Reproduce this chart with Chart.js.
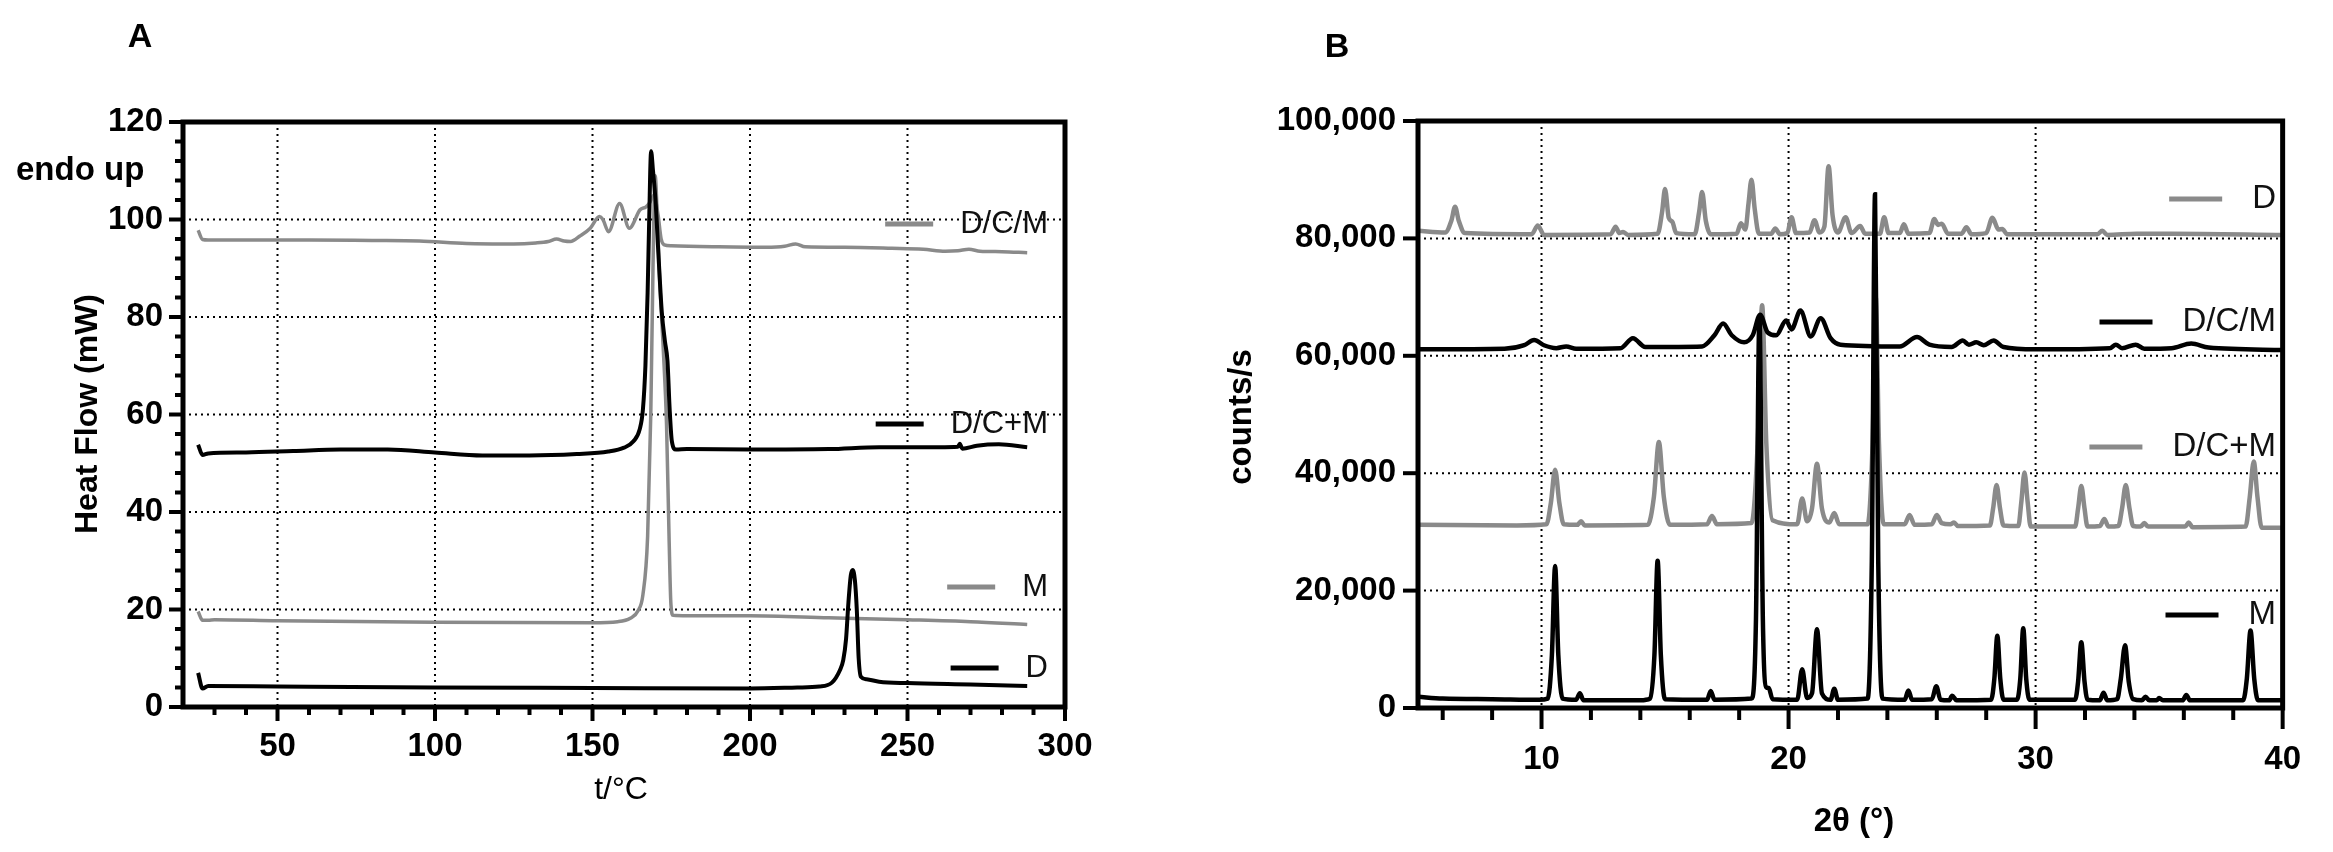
<!DOCTYPE html>
<html>
<head>
<meta charset="utf-8">
<script src="https://cdn.jsdelivr.net/npm/chart.js@4.4.1/dist/chart.umd.min.js"></script>
<style>
  html, body { margin: 0; padding: 0; background: #fff; }
  #wrap { position: relative; width: 2333px; height: 852px; }
  canvas { position: absolute; top: 0; }
</style>
</head>
<body>
<div id="wrap">
  <canvas id="dsc" width="1150" height="852" style="left:0"></canvas>
  <canvas id="xrd" width="1183" height="852" style="left:1150px"></canvas>
</div>
<script>
// ---- A: DSC curves (t in °C, heat flow in mW) ----
const dcmT  = [24.8, 26.2, 28, 40, 60, 80, 95, 110, 125, 132, 136, 138.6, 141, 143, 146, 149.3, 152.2, 153.3, 155.1, 158.6, 161.7, 165.1, 167, 168.2, 169.5, 170.8, 171.8, 172.8, 175, 190, 205, 211, 214.5, 217.5, 230, 245, 255, 262, 266, 269.5, 273, 280, 288];
const dcmHF = [97.8, 95.9, 95.8, 95.8, 95.8, 95.7, 95.6, 95.1, 95.0, 95.2, 95.5, 96.0, 95.6, 95.5, 96.6, 98.2, 100.6, 100.0, 97.5, 103.3, 98.2, 102.0, 102.6, 103.5, 105.0, 101.0, 96.0, 94.8, 94.6, 94.4, 94.3, 94.5, 95.0, 94.4, 94.3, 94.1, 93.9, 93.5, 93.6, 93.9, 93.5, 93.4, 93.2];

const dcpmT  = [24.8, 26.2, 28, 40, 55, 70, 85, 100, 115, 130, 145, 155, 160, 163, 165, 166, 166.8, 167.5, 168, 168.6, 169.2, 170, 171, 172, 173, 173.8, 174.5, 175.2, 176.5, 180, 200, 225, 241, 260, 266, 266.6, 267.4, 272, 279, 288];
const dcpmHF = [53.8, 51.7, 52.0, 52.2, 52.5, 52.8, 52.8, 52.2, 51.6, 51.6, 51.9, 52.4, 53.2, 54.5, 57.0, 61.0, 70.0, 85.0, 100.0, 114.0, 110.0, 104.0, 92.0, 81.0, 75.0, 71.0, 61.0, 54.5, 52.8, 52.9, 52.8, 52.9, 53.3, 53.3, 53.4, 54.0, 53.0, 53.6, 53.9, 53.3];

const mT  = [24.8, 26.2, 28, 30, 50, 100, 150, 158, 162, 164.5, 166, 167.5, 168.5, 169.2, 169.9, 170.6, 171.3, 172.5, 173.5, 174.3, 174.9, 175.6, 180, 200, 225, 250, 270, 288];
const mHF = [19.6, 17.8, 17.8, 17.9, 17.7, 17.4, 17.3, 17.5, 18.2, 19.8, 23.0, 35.0, 60.0, 90.0, 109.0, 100.0, 88.0, 73.0, 58.0, 35.0, 21.0, 18.8, 18.7, 18.7, 18.3, 17.9, 17.5, 16.9];

const dT  = [24.8, 26.2, 28, 50, 100, 150, 200, 215, 222, 226, 228.5, 229.6, 230.5, 231.2, 232, 232.6, 233.3, 233.9, 234.5, 235.2, 237, 241, 250, 270, 288];
const dHF = [7.0, 3.8, 4.3, 4.2, 4.0, 3.9, 3.8, 4.0, 4.2, 5.0, 7.5, 9.6, 14.0, 21.0, 27.0, 28.1, 26.0, 20.0, 10.0, 6.2, 5.7, 5.2, 4.9, 4.6, 4.3];

// ---- B: XRD patterns (2θ in degrees, counts/s) ----
const xM = [5, 6, 8, 9.9, 10.25, 10.42, 10.55, 10.68, 10.85, 11.4, 11.55, 11.7, 14.0, 14.4, 14.57, 14.7, 14.83, 15.0, 16.7, 16.85, 17.0, 18.5, 18.68, 18.82, 18.96, 19.1, 19.2, 19.35, 20.35, 20.55, 20.75, 20.95, 21.15, 21.35, 21.7, 21.85, 22.0, 23.2, 23.37, 23.5, 23.63, 23.8, 24.7, 24.85, 25.0, 25.8, 25.98, 26.15, 26.5, 26.62, 26.8, 28.2, 28.33, 28.45, 28.57, 28.7, 29.25, 29.38, 29.5, 29.62, 29.75, 31.6, 31.72, 31.85, 31.98, 32.1, 32.6, 32.75, 32.9, 33.3, 33.45, 33.62, 33.77, 33.95, 34.3, 34.45, 34.6, 34.9, 35.0, 35.15, 35.95, 36.1, 36.25, 38.4, 38.55, 38.7, 38.85, 39.0, 40];
const yM = [1900, 1600, 1500, 1400, 1600, 9000, 24200, 9000, 1600, 1400, 2500, 1300, 1300, 1600, 9000, 25100, 9000, 1500, 1400, 2900, 1400, 1600, 15000, 66500, 15000, 3500, 3400, 1500, 1400, 6600, 1700, 2500, 13400, 2500, 1400, 3300, 1400, 1600, 25000, 87500, 25000, 1600, 1400, 3000, 1400, 1500, 3700, 1400, 1300, 2100, 1300, 1400, 5000, 12300, 5000, 1400, 1400, 5000, 13600, 5000, 1400, 1400, 4500, 11200, 4500, 1400, 1300, 2600, 1300, 1500, 5000, 10700, 4500, 1500, 1300, 1900, 1300, 1300, 1700, 1300, 1300, 2200, 1300, 1300, 5000, 13200, 5000, 1300, 1300];

const xDCM = [5, 8.5, 9.3, 9.7, 10.1, 10.6, 11.0, 11.4, 13.2, 13.7, 14.2, 16.5, 17.0, 17.35, 17.7, 18.2, 18.55, 18.85, 19.15, 19.5, 19.9, 20.12, 20.48, 20.9, 21.3, 21.7, 22.1, 24.5, 25.2, 25.7, 26.6, 27.05, 27.3, 27.6, 27.9, 28.3, 28.7, 30, 33.0, 33.25, 33.5, 34.05, 34.4, 35.5, 36.3, 37, 40];
const yDCM = [61100, 61200, 61800, 62700, 61800, 61300, 61600, 61200, 61300, 63000, 61500, 61600, 63500, 65500, 63500, 62300, 63500, 67000, 64000, 63500, 66000, 64500, 67700, 63300, 66400, 63000, 61900, 61600, 63200, 61900, 61500, 62600, 61900, 62300, 61800, 62600, 61500, 61100, 61300, 61900, 61300, 61900, 61200, 61300, 62100, 61400, 61000];

const xDCpM = [5, 9, 10.2, 10.38, 10.55, 10.72, 10.9, 11.45, 11.6, 11.75, 14.3, 14.55, 14.75, 14.95, 15.2, 16.7, 16.9, 17.1, 18.5, 18.75, 18.93, 19.1, 19.35, 20.35, 20.55, 20.75, 20.95, 21.15, 21.35, 21.65, 21.85, 22.05, 23.2, 23.4, 23.53, 23.66, 23.85, 24.7, 24.9, 25.1, 25.8, 26.0, 26.2, 26.55, 26.7, 26.85, 28.15, 28.28, 28.42, 28.56, 28.7, 29.3, 29.42, 29.55, 29.68, 29.8, 31.6, 31.72, 31.85, 31.98, 32.1, 32.6, 32.78, 32.95, 33.35, 33.5, 33.65, 33.8, 33.95, 34.25, 34.4, 34.55, 36.05, 36.2, 36.35, 38.5, 38.67, 38.83, 38.98, 39.15, 40];
const yDCpM = [31200, 31100, 31300, 35000, 40600, 35000, 31300, 31200, 31800, 31100, 31200, 36000, 45300, 36000, 31200, 31300, 32700, 31300, 31500, 45000, 68600, 45000, 32000, 31300, 35700, 31800, 34000, 41600, 34000, 31600, 33200, 31300, 31300, 45000, 70000, 45000, 31300, 31300, 32900, 31200, 31300, 32900, 31500, 31300, 31600, 31000, 31100, 34000, 38000, 34000, 31100, 31000, 35000, 40100, 35000, 30900, 30900, 34000, 37800, 34000, 30900, 31000, 32200, 30900, 31000, 34000, 38000, 34000, 31000, 30900, 31500, 30900, 30900, 31600, 30800, 30900, 36000, 42000, 36000, 30700, 30700];

const xD = [5, 6.1, 6.35, 6.5, 6.65, 6.9, 9.6, 9.85, 10.1, 12.8, 13.0, 13.15, 13.3, 13.5, 14.7, 14.88, 15.0, 15.15, 15.3, 15.45, 16.2, 16.38, 16.5, 16.65, 16.85, 17.9, 18.07, 18.25, 18.38, 18.5, 18.63, 18.8, 19.3, 19.46, 19.65, 19.95, 20.12, 20.3, 20.85, 21.05, 21.25, 21.45, 21.62, 21.78, 22.0, 22.31, 22.55, 22.9, 23.1, 23.7, 23.87, 24.05, 24.5, 24.67, 24.85, 25.7, 25.9, 26.05, 26.2, 26.45, 27.0, 27.2, 27.4, 28.0, 28.25, 28.5, 28.65, 28.85, 30.0, 32.5, 32.7, 32.9, 34.1, 35.5, 40];
const yD = [81300, 81000, 83000, 85400, 83000, 80900, 80700, 82200, 80600, 80700, 82000, 80900, 81100, 80600, 80800, 84500, 88400, 83500, 82800, 80900, 80700, 84500, 87900, 83000, 80700, 80800, 82600, 81500, 86000, 90000, 85000, 80800, 80800, 81700, 80700, 80900, 83600, 80900, 81000, 83100, 81000, 82000, 92300, 84000, 81000, 83600, 80900, 82100, 80800, 80800, 83600, 80900, 80900, 82400, 80800, 80900, 83300, 82300, 82500, 80800, 80800, 81900, 80700, 80900, 83500, 81500, 81600, 80700, 80700, 80700, 81300, 80600, 80800, 80800, 80600];

// axis ticks / grid values
const xTicksA = [50, 100, 150, 200, 250, 300];
const yTicksA = [0, 20, 40, 60, 80, 100, 120];
const xTicksB = [10, 20, 30, 40];
const yTicksB = [0, 20000, 40000, 60000, 80000, 100000];

const GRAY = '#8a8a8a';
const BLACK = '#000';

function pts(xs, ys) { return xs.map((v, i) => ({ x: v, y: ys[i] })); }
function range(a, b, step, skip) {
  const out = [];
  for (let v = a; v <= b + 1e-9; v += step) if (v % skip !== 0) out.push(v);
  return out;
}

function seg(ctx, x1, y1, x2, y2) { ctx.beginPath(); ctx.moveTo(x1, y1); ctx.lineTo(x2, y2); ctx.stroke(); }

// frame, dotted grid, ticks, legend and free texts
const frame = {
  id: 'frame',
  beforeDatasetsDraw(chart, args, o) {
    const { ctx, chartArea: a, scales: { x, y } } = chart;
    ctx.save();
    ctx.strokeStyle = '#000';
    ctx.lineWidth = 2;
    ctx.setLineDash([2, 4]);
    o.gridX.forEach(v => { const p = x.getPixelForValue(v); seg(ctx, p, a.top, p, a.bottom); });
    o.gridY.forEach(v => { const p = y.getPixelForValue(v); seg(ctx, a.left, p, a.right, p); });
    ctx.restore();
  },
  afterDatasetsDraw(chart, args, o) {
    const { ctx, chartArea: a, scales: { x, y } } = chart;
    ctx.save();
    ctx.strokeStyle = '#000';
    ctx.lineWidth = 5;
    ctx.strokeRect(a.left, a.top, a.right - a.left, a.bottom - a.top);
    ctx.lineWidth = 4;
    o.xMajor.forEach(v => { const p = x.getPixelForValue(v); seg(ctx, p, a.bottom, p, a.bottom + o.tick[0]); });
    o.xMinor.forEach(v => { const p = x.getPixelForValue(v); seg(ctx, p, a.bottom, p, a.bottom + o.tick[1]); });
    o.yMajor.forEach(v => { const p = y.getPixelForValue(v); seg(ctx, a.left - o.tick[2], p, a.left, p); });
    o.yMinor.forEach(v => { const p = y.getPixelForValue(v); seg(ctx, a.left - o.tick[3], p, a.left, p); });

    // legend: label right-aligned, sample line to its left
    ctx.font = o.legendFont;
    ctx.textBaseline = 'middle';
    o.legend.forEach(it => {
      const w = ctx.measureText(it.label).width;
      const xr = o.legendRight;
      ctx.fillStyle = '#111';
      ctx.textAlign = 'right';
      ctx.fillText(it.label, xr, it.y);
      ctx.strokeStyle = it.color;
      ctx.lineWidth = 5;
      const x2 = xr - w - o.legendGap;
      seg(ctx, x2 - o.legendLen, it.y, x2, it.y);
    });

    o.texts.forEach(t => {
      ctx.save();
      ctx.font = t.font;
      ctx.fillStyle = '#000';
      ctx.textAlign = t.align || 'center';
      ctx.textBaseline = 'middle';
      ctx.translate(t.x, t.y);
      if (t.rot) ctx.rotate(t.rot);
      ctx.fillText(t.text, 0, 0);
      ctx.restore();
    });
    ctx.restore();
  }
};

function lineSet(label, data, color, width) {
  return { label, data, borderColor: color, backgroundColor: color, borderWidth: width,
           pointRadius: 0, fill: false, cubicInterpolationMode: 'monotone' };
}

function axis(min, max, ticks, font, padding, size, isX, fmt) {
  return {
    type: 'linear', min, max,
    afterBuildTicks: s => { s.ticks = ticks.map(v => ({ value: v })); },
    afterFit: s => { if (isX) s.height = size; else s.width = size; },
    grid: { display: false, drawTicks: false },
    border: { display: false },
    ticks: { font, color: '#000', padding, maxRotation: 0, autoSkip: false,
             callback: v => fmt ? v.toLocaleString('en-US') : v }
  };
}

const tickFontA = { family: 'Liberation Sans, Arial, sans-serif', size: 33, weight: 'bold' };
const tickFontB = { family: 'Liberation Sans, Arial, sans-serif', size: 33, weight: 'bold' };

new Chart(document.getElementById('dsc'), {
  type: 'line',
  data: {
    datasets: [
      lineSet('D/C+M', pts(dcpmT, dcpmHF), BLACK, 4),
      lineSet('D', pts(dT, dHF), BLACK, 4),
      lineSet('M', pts(mT, mHF), GRAY, 3.5),
      lineSet('D/C/M', pts(dcmT, dcmHF), GRAY, 3.5)
    ]
  },
  options: {
    responsive: false, animation: false, devicePixelRatio: 1,
    layout: { padding: { top: 122, right: 85, left: 0, bottom: 0 } },
    scales: {
      x: axis(20, 300, xTicksA, tickFontA, 20, 145, true, false),
      y: axis(0, 120, yTicksA, tickFontA, 20, 183, false, false)
    },
    plugins: {
      legend: { display: false },
      tooltip: { enabled: false },
      frame: {
        gridX: [50, 100, 150, 200, 250], gridY: [20, 40, 60, 80, 100],
        xMajor: xTicksA, xMinor: range(30, 290, 10, 50),
        yMajor: yTicksA, yMinor: range(4, 116, 4, 20),
        tick: [14, 8, 14, 8],
        legendFont: '31px Liberation Sans, Arial, sans-serif',
        legendRight: 1048, legendGap: 27, legendLen: 48,
        legend: [
          { label: 'D/C/M', color: GRAY, y: 224 },
          { label: 'D/C+M', color: BLACK, y: 424 },
          { label: 'M', color: GRAY, y: 587 },
          { label: 'D', color: BLACK, y: 668 }
        ],
        texts: [
          { text: 'A', x: 140, y: 38, font: 'bold 34px Liberation Sans, Arial, sans-serif' },
          { text: 'endo up', x: 16, y: 171, align: 'left', font: 'bold 33px Liberation Sans, Arial, sans-serif' },
          { text: 'Heat Flow (mW)', x: 88, y: 414, rot: -Math.PI / 2, font: 'bold 32px Liberation Sans, Arial, sans-serif' },
          { text: 't/°C', x: 621, y: 790, font: '32px Liberation Sans, Arial, sans-serif' }
        ]
      }
    }
  },
  plugins: [frame]
});

new Chart(document.getElementById('xrd'), {
  type: 'line',
  data: {
    datasets: [
      lineSet('M', pts(xM, yM), BLACK, 4.5),
      lineSet('D/C/M', pts(xDCM, yDCM), BLACK, 4.5),
      lineSet('D/C+M', pts(xDCpM, yDCpM), GRAY, 4.5),
      lineSet('D', pts(xD, yD), GRAY, 4.5)
    ]
  },
  options: {
    responsive: false, animation: false, devicePixelRatio: 1,
    layout: { padding: { top: 121, right: 36, left: 0, bottom: 0 } },
    scales: {
      x: axis(5, 40, xTicksB, tickFontB, 32, 144, true, false),
      y: axis(0, 100000, yTicksB, tickFontB, 22, 268, false, true)
    },
    plugins: {
      legend: { display: false },
      tooltip: { enabled: false },
      frame: {
        gridX: [10, 20, 30], gridY: [20000, 40000, 60000, 80000],
        xMajor: xTicksB, xMinor: range(6, 38, 2, 10),
        yMajor: yTicksB, yMinor: [],
        tick: [21, 12, 15, 0],
        legendFont: '33px Liberation Sans, Arial, sans-serif',
        legendRight: 1126, legendGap: 30, legendLen: 53,
        legend: [
          { label: 'D', color: GRAY, y: 199 },
          { label: 'D/C/M', color: BLACK, y: 322 },
          { label: 'D/C+M', color: GRAY, y: 447 },
          { label: 'M', color: BLACK, y: 615 }
        ],
        texts: [
          { text: 'B', x: 187, y: 48, font: 'bold 34px Liberation Sans, Arial, sans-serif' },
          { text: 'counts/s', x: 92, y: 417, rot: -Math.PI / 2, font: 'bold 33px Liberation Sans, Arial, sans-serif' },
          { text: '2θ (°)', x: 704, y: 822, font: 'bold 33px Liberation Sans, Arial, sans-serif' }
        ]
      }
    }
  },
  plugins: [frame]
});
</script>
</body>
</html>
